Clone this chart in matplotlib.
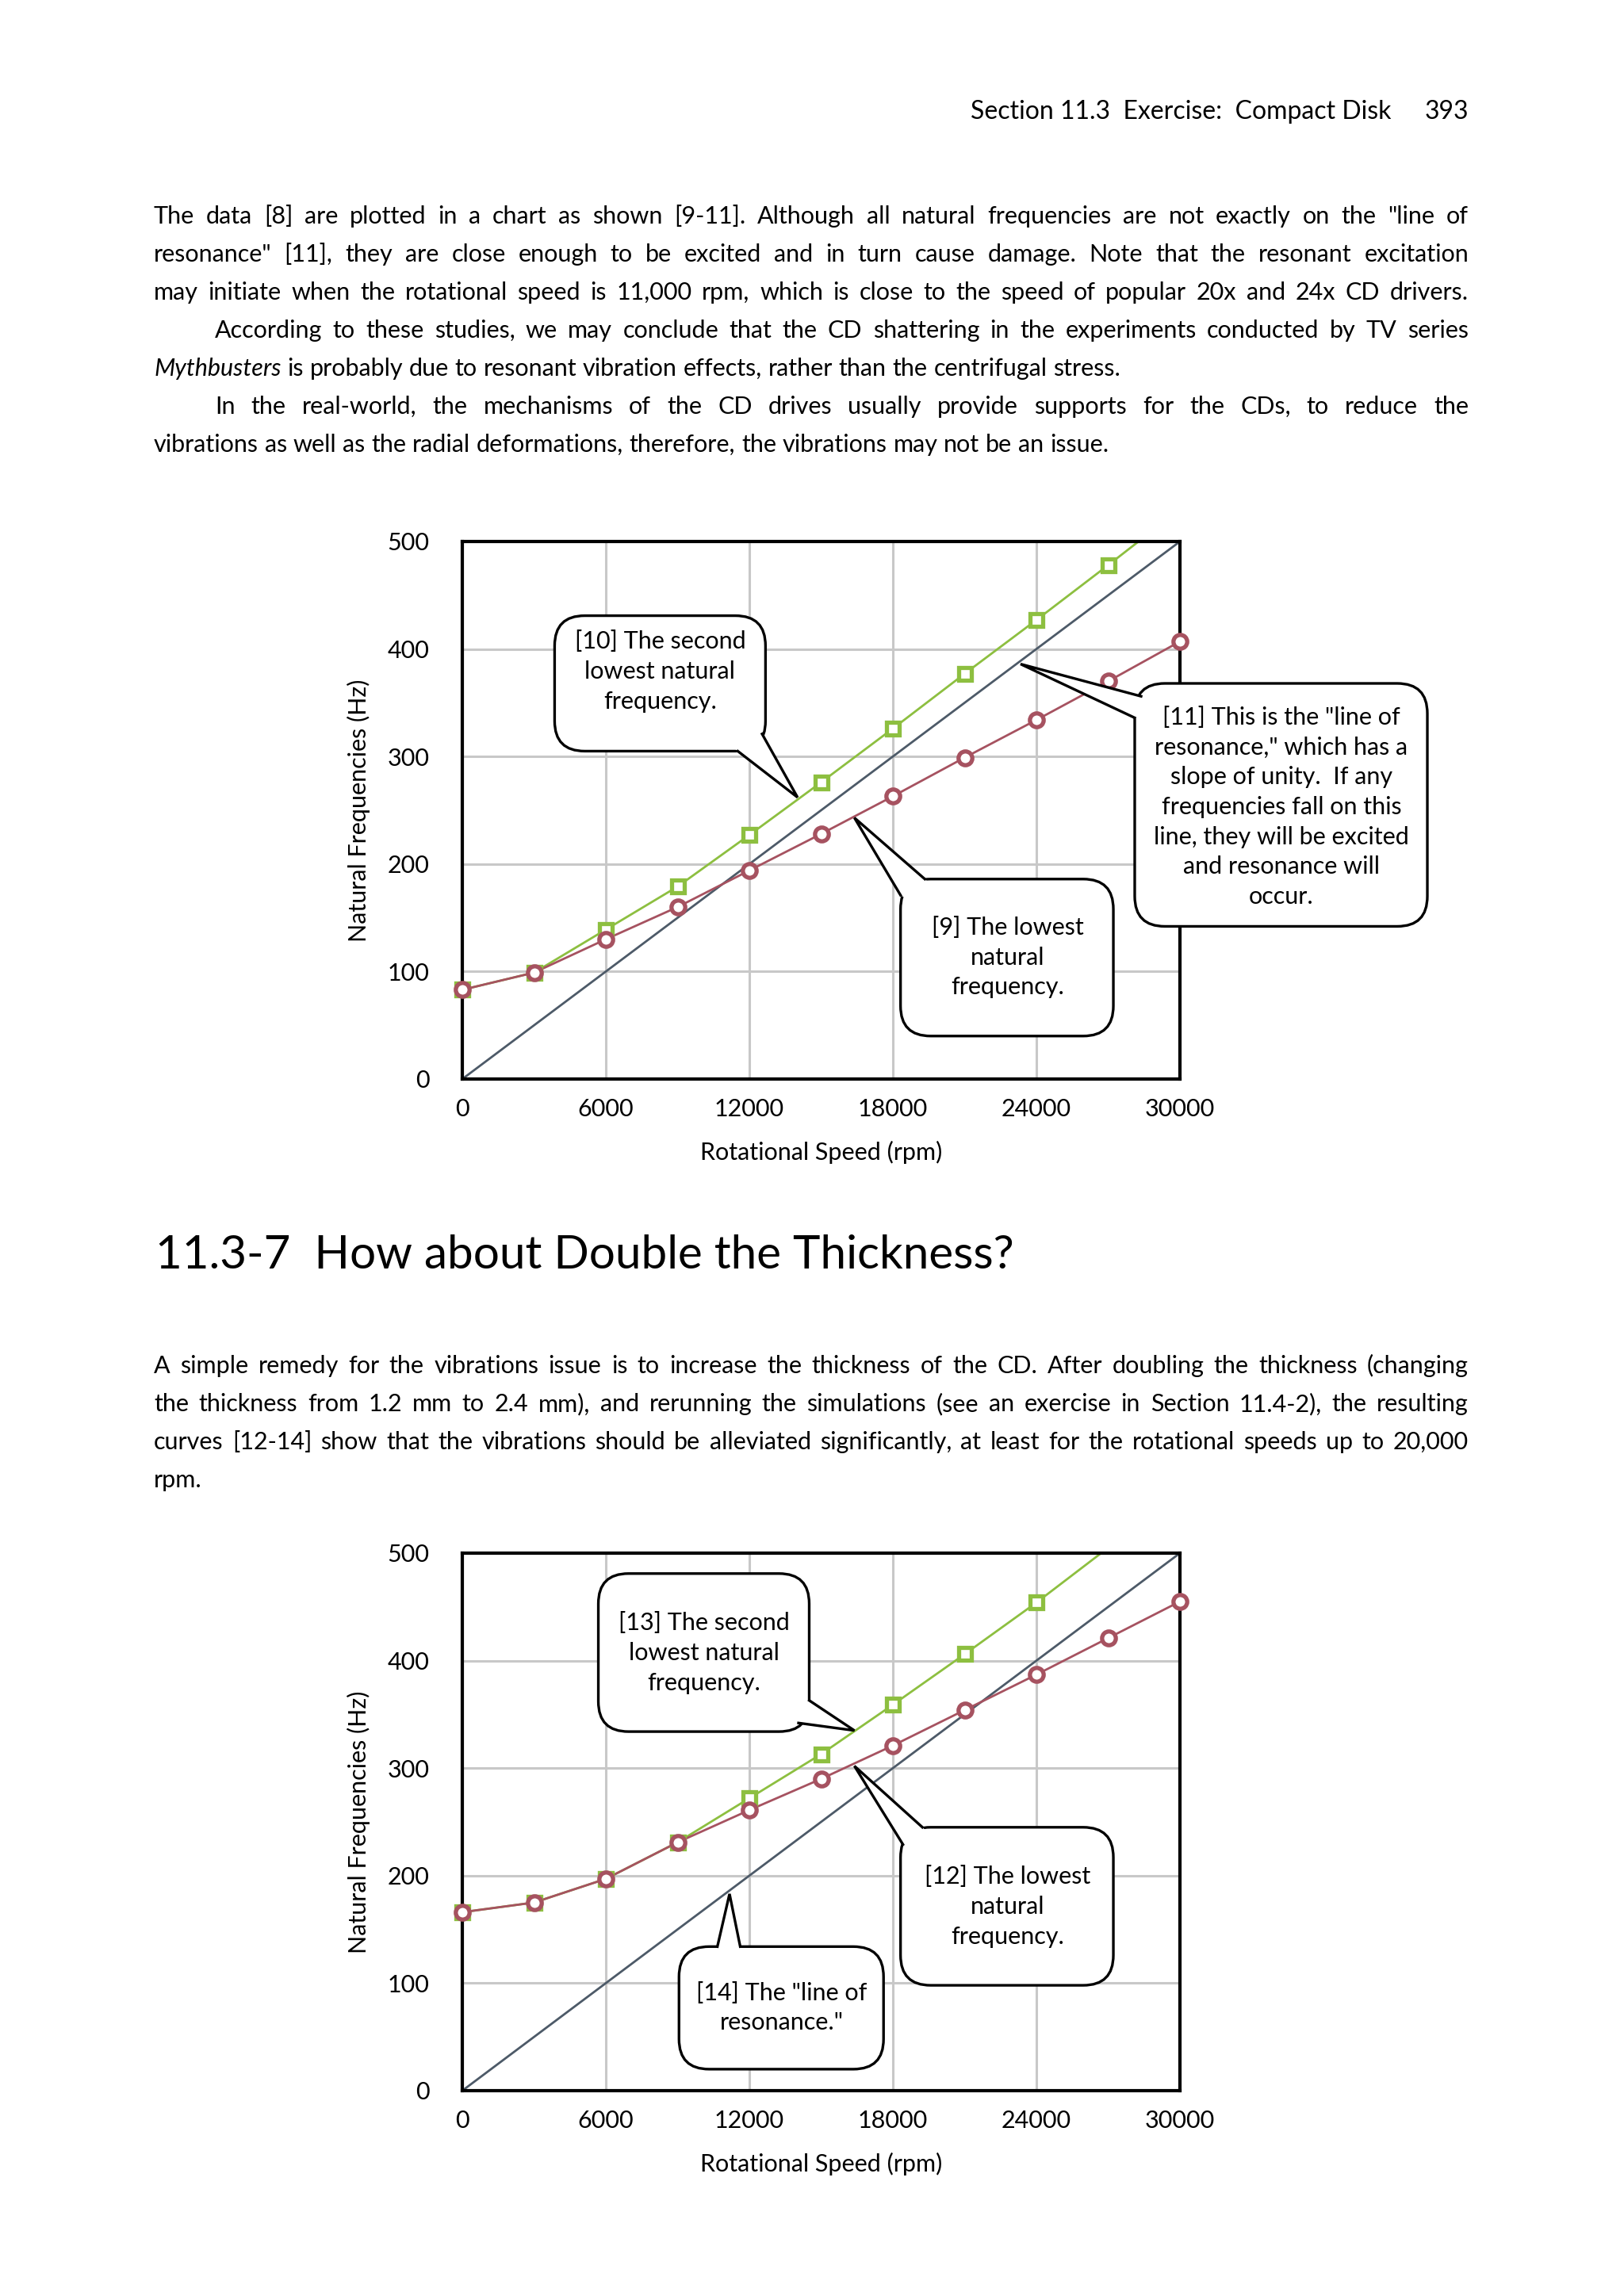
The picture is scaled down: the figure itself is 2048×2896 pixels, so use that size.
import numpy as np
import matplotlib.pyplot as plt
from matplotlib.patches import FancyBboxPatch, Polygon
from matplotlib.lines import Line2D
from matplotlib.transforms import Affine2D, IdentityTransform

W, H = 2048, 2896
FONT = 'Lato'

# ---- data ----
rpm = [0, 3000, 6000, 9000, 12000, 15000, 18000, 21000, 24000, 27000, 30000]
# 1.2 mm thick disk
lowest_thin = [83, 99, 130, 160, 194, 228, 263, 299, 334, 370, 407]
second_thin = [83, 99, 139, 179, 227, 276, 326, 377, 427, 478, 530]
# 2.4 mm thick disk
lowest_thick = [166, 175, 197, 231, 261, 290, 321, 354, 387, 421, 455]
second_thick = [166, 175, 197, 231, 272, 313, 359, 406, 454, 505, 555]
# line of resonance (Hz = rpm / 60)
resonance_rpm = [0, 30000]
resonance_hz = [0, 500]

x_ticks = [0, 6000, 12000, 18000, 24000, 30000]
y_ticks = [0, 100, 200, 300, 400, 500]

GREEN = '#8dbf40'
RED = '#a65260'
SLATE = '#4d5a68'
GRID = '#c8c8c8'

plt.rcParams['font.family'] = [FONT, 'DejaVu Sans']

fig = plt.figure(figsize=(W / 100, H / 100), dpi=100)
page = Affine2D().scale(1, -1).translate(0, H)  # page pixels, y going down
pix = IdentityTransform()
renderer = fig.canvas.get_renderer()


def width_of(s, size, style='normal'):
    t = fig.text(0, 0, s, fontsize=size, style=style)
    w = t.get_window_extent(renderer).width
    t.remove()
    return w


def put_line(s, y, x0=194, x1=1852, size=22, justify=True, italic=()):
    words = s.split()
    styles = ['italic' if w in italic else 'normal' for w in words]
    widths = [width_of(w, size, st) for w, st in zip(words, styles)]
    space = width_of('a a', size) - width_of('aa', size)
    gap = space
    if justify and len(words) > 1:
        gap = (x1 - x0 - sum(widths)) / (len(words) - 1)
    x = x0
    for w, st, wd in zip(words, styles, widths):
        fig.text(x, y, w, fontsize=size, style=st, transform=page,
                 ha='left', va='baseline')
        x += wd + gap


# ---- page text ----
fig.text(1224, 150, 'Section 11.3  Exercise:  Compact Disk', fontsize=23,
         transform=page, ha='left', va='baseline')
fig.text(1852, 150, '393', fontsize=23, transform=page, ha='right', va='baseline')

put_line('The data [8] are plotted in a chart as shown [9-11]. Although all natural '
         'frequencies are not exactly on the "line of', 282)
put_line('resonance" [11], they are close enough to be excited and in turn cause damage. '
         'Note that the resonant excitation', 330)
put_line('may initiate when the rotational speed is 11,000 rpm, which is close to the '
         'speed of popular 20x and 24x CD drivers.', 378)
put_line('According to these studies, we may conclude that the CD shattering in the '
         'experiments conducted by TV series', 426, x0=271)
put_line('Mythbusters is probably due to resonant vibration effects, rather than the '
         'centrifugal stress.', 474, justify=False, italic=('Mythbusters',))
put_line('In the real-world, the mechanisms of the CD drives usually provide supports '
         'for the CDs, to reduce the', 522, x0=271)
put_line('vibrations as well as the radial deformations, therefore, the vibrations may '
         'not be an issue.', 570, justify=False)

fig.text(196, 1600, '11.3-7  How about Double the Thickness?', fontsize=42,
         transform=page, ha='left', va='baseline')

put_line('A simple remedy for the vibrations issue is to increase the thickness of the CD. '
         'After doubling the thickness (changing', 1732)
put_line('the thickness from 1.2 mm to 2.4 mm), and rerunning the simulations (see an '
         'exercise in Section 11.4-2), the resulting', 1780)
put_line('curves [12-14] show that the vibrations should be alleviated significantly, at '
         'least for the rotational speeds up to 20,000', 1828)
put_line('rpm.', 1876, justify=False)


def bubble(ax, box, tail, text, center, size=22):
    (bx0, by0), (bx1, by1) = ax.transData.transform([box[:2], box[2:]])
    b1, b2, tip = ax.transData.transform(tail)
    fig.add_artist(FancyBboxPatch((bx0, by0), bx1 - bx0, by1 - by0,
                                  boxstyle='round,pad=0,rounding_size=38',
                                  fc='white', ec='black', lw=2.4,
                                  transform=pix, zorder=10))
    c = np.array([(bx0 + bx1) / 2, (by0 + by1) / 2])

    def inward(p):
        d = c - p
        return p + d / np.hypot(*d) * 8

    fig.add_artist(Polygon([inward(b1), b1, tip, b2, inward(b2)], closed=True,
                           fc='white', ec='none', transform=pix, zorder=11))
    fig.add_artist(Line2D([b1[0], tip[0], b2[0]], [b1[1], tip[1], b2[1]],
                          color='black', lw=2.4, solid_joinstyle='miter',
                          transform=pix, zorder=12))
    tx, ty = ax.transData.transform(center)
    fig.text(tx, ty, text, fontsize=size, transform=pix, ha='center', va='center',
             multialignment='center', linespacing=1.42, zorder=13)


def chart(top, second, lowest):
    ax = fig.add_axes([583 / W, 1 - (top + 678) / H, 905 / W, 678 / H])
    ax.set_xlim(0, 30000)
    ax.set_ylim(0, 500)
    ax.set_xticks(x_ticks)
    ax.set_yticks(y_ticks)
    ax.grid(True, color=GRID, lw=2.2)
    ax.set_axisbelow(True)
    ax.tick_params(length=0, labelsize=22)
    ax.tick_params(axis='x', pad=17)
    ax.tick_params(axis='y', pad=30)
    for sp in ax.spines.values():
        sp.set_linewidth(3)
        sp.set_color('black')

    ax.plot(resonance_rpm, resonance_hz, color=SLATE, lw=2)
    ax.plot(rpm, second, color=GREEN, lw=2)
    ax.plot(rpm, lowest, color=RED, lw=2)
    x = np.array(rpm)
    s = np.array(second)
    ax.plot(x[s <= 500], s[s <= 500], ls='none', marker='s', ms=11.5, mec=GREEN,
            mfc='white', mew=3.8, clip_on=False, zorder=3)
    ax.plot(rpm, lowest, ls='none', marker='o', ms=12.5, mec=RED,
            mfc='white', mew=3.8, clip_on=False, zorder=3)

    ax.set_xlabel('Rotational Speed (rpm)', fontsize=22)
    ax.set_ylabel('Natural Frequencies (Hz)', fontsize=22)
    ax.xaxis.set_label_coords(0.5, -92 / 678)
    ax.yaxis.set_label_coords(-131 / 905, 0.5)
    ax.xaxis.label.set_va('center')
    ax.yaxis.label.set_va('center')
    return ax


ax1 = chart(683, second_thin, lowest_thin)
bubble(ax1, (3859, 305, 12675, 431), [(11516, 305), (12532, 321), (14015, 262)],
       '[10] The second\nlowest natural\nfrequency.', (8267, 379))
bubble(ax1, (18320, 40, 27217, 186), [(18320, 171), (19335, 186), (16391, 243)],
       '[9] The lowest\nnatural\nfrequency.', (22790, 113))
bubble(ax1, (28110, 142, 40343, 368), [(28376, 356), (28110, 336), (23337, 386)],
       '[11] This is the "line of\nresonance," which has a\nslope of unity.  If any\n'
       'frequencies fall on this\nline, they will be excited\nand resonance will\noccur.',
       (34237, 253))

ax2 = chart(1959, second_thick, lowest_thick)
bubble(ax2, (5687, 334, 14502, 481), [(14502, 363), (14055, 342), (16391, 335)],
       '[13] The second\nlowest natural\nfrequency.', (10095, 407))
bubble(ax2, (18320, 98, 27217, 245), [(18421, 229), (19234, 245), (16391, 302)],
       '[12] The lowest\nnatural\nfrequency.', (22790, 171))
bubble(ax2, (9059, 20, 17610, 134), [(10663, 134), (11618, 134), (11171, 183)],
       '[14] The "line of\nresonance."', (13345, 77))

fig.savefig('out.png', dpi=100)
